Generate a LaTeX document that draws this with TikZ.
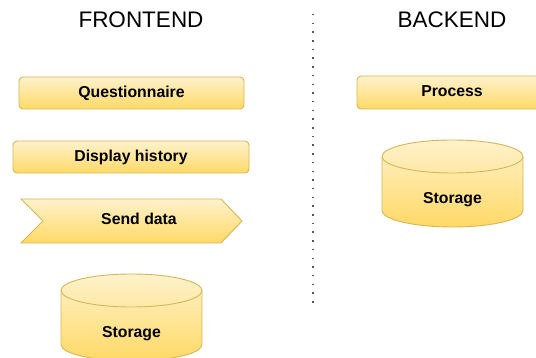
\documentclass[tikz,border=0pt]{standalone}
\usepackage{fontspec}
\setmainfont{Liberation Sans}
\definecolor{fillTop}{HTML}{FFF2CC}
\definecolor{fillBot}{HTML}{FFD966}
\definecolor{edge}{HTML}{D6B656}
\definecolor{divider}{HTML}{555555}
\tikzset{
  yellowfill/.style={top color=fillTop, bottom color=fillBot, draw=edge, line width=0.9pt},
  roundbox/.style={yellowfill, rectangle, rounded corners=4pt, inner sep=0pt,
    text height=9pt, text depth=0pt, font=\fontsize{15.8}{18}\selectfont\bfseries},
  boldlabel/.style={anchor=base, inner sep=0pt, font=\fontsize{15.8}{18}\selectfont\bfseries},
  heading/.style={anchor=base, inner sep=0pt, font=\fontsize{22.5}{26}\selectfont},
}
\begin{document}
\begin{tikzpicture}[x=1pt, y=-1pt]
  \clip (0,0) rectangle (536,358);
  \fill[white] (0,0) rectangle (536,358);

  % column headings
  \node[heading] (fe) at (141,28) {FRONTEND};
  \node[heading] (be) at (452,28) {BACKEND};

  % dotted divider between the two columns
  \coordinate (divtop) at (313,14);
  \coordinate (divbot) at (313,306);
  \draw[divider, line width=1.5pt, dash pattern=on 1.5pt off 7.2pt] (divtop) -- (divbot);

  % frontend boxes
  \node[roundbox, minimum width=225pt, minimum height=32pt] (quest) at (131.5,93) {Questionnaire};
  \node[roundbox, minimum width=236pt, minimum height=32pt] (hist) at (131,157) {Display history};

  % step shape
  \path[yellowfill] (21,199) -- (221,199) -- (242,221) -- (221,243) -- (21,243) -- (43,221) -- cycle;
  \node[boldlabel] (send) at (139,225) {Send data};

  % frontend storage cylinder
  \path[yellowfill] (61,290.5) arc[start angle=180, end angle=0, x radius=70.5pt, y radius=16.5pt]
    -- (202,344.5) arc[start angle=0, end angle=-180, x radius=70.5pt, y radius=16.5pt] -- cycle;
  \draw[edge, line width=0.9pt] (61,290.5) arc[start angle=180, end angle=360, x radius=70.5pt, y radius=16.5pt];
  \node[boldlabel] (fstore) at (131.5,337.5) {Storage};

  % backend boxes
  \node[roundbox, minimum width=190pt, minimum height=33pt] (proc) at (452,92.5) {Process};

  % backend storage cylinder
  \path[yellowfill] (382,156.5) arc[start angle=180, end angle=0, x radius=70.5pt, y radius=16.5pt]
    -- (523,210.5) arc[start angle=0, end angle=-180, x radius=70.5pt, y radius=16.5pt] -- cycle;
  \draw[edge, line width=0.9pt] (382,156.5) arc[start angle=180, end angle=360, x radius=70.5pt, y radius=16.5pt];
  \node[boldlabel] (bstore) at (452.5,203.5) {Storage};
\end{tikzpicture}
\end{document}
